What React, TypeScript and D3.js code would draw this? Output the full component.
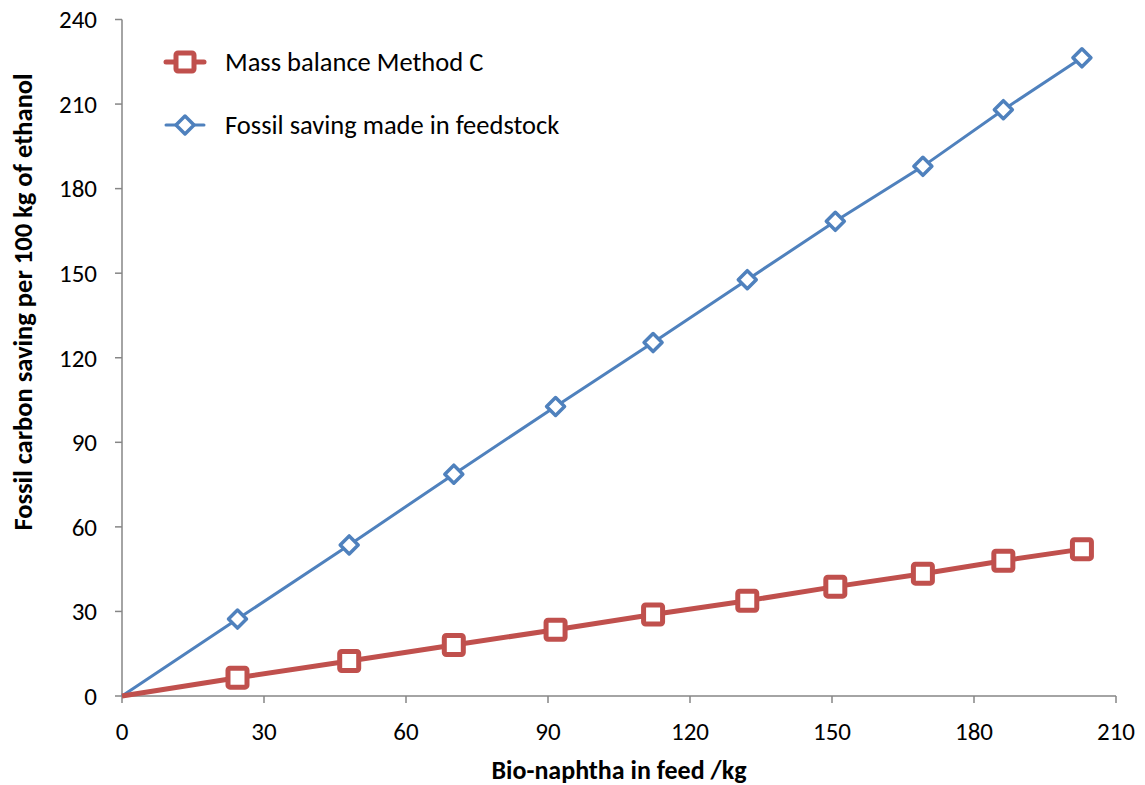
import React from "react";
import * as d3 from "d3";

const bioNaphtha = [0, 24.4, 48.0, 70.1, 91.6, 112.2, 132.1, 150.7, 169.2, 186.2, 202.8];
const massBalanceC = [0, 6.5, 12.4, 18.1, 23.5, 28.9, 33.8, 38.8, 43.4, 48.0, 52.1];
const fossilSaving = [0, 27.3, 53.6, 78.7, 102.7, 125.4, 147.7, 168.4, 187.9, 208.0, 226.4];
const xTicks = [0, 30, 60, 90, 120, 150, 180, 210];
const yTicks = [0, 30, 60, 90, 120, 150, 180, 210, 240];
const seriesNames = ["Mass balance Method C", "Fossil saving made in feedstock"];

const W = 1145;
const H = 785;
const FONT = "Carlito, Calibri, Lato, 'Open Sans', sans-serif";
const RED = "#C0504D";
const BLUE = "#4F81BD";
const AXIS = "#868686";

export default function App() {
  const x = d3.scaleLinear().domain([0, 210]).range([122, 1116]);
  const y = d3.scaleLinear().domain([0, 240]).range([696, 19.5]);
  const line = d3
    .line<number>()
    .x((_, i) => x(bioNaphtha[i]))
    .y((d) => y(d));

  const redPath = line(massBalanceC) || "";
  const bluePath = line(fossilSaving) || "";

  const sq = 9.5;
  const dm = 9;
  const diamond = (cx: number, cy: number) =>
    `M${cx},${cy - dm}L${cx + dm},${cy}L${cx},${cy + dm}L${cx - dm},${cy}Z`;

  return (
    <svg
      width={W}
      height={H}
      style={{ position: "absolute", left: 0, top: 0, background: "#fff" }}
      fontFamily={FONT}
    >
      {/* axes */}
      <line x1={x(0)} x2={x(0)} y1={y(240)} y2={y(0)} stroke={AXIS} strokeWidth={1.5} />
      <line x1={x(0)} x2={x(210)} y1={y(0)} y2={y(0)} stroke={AXIS} strokeWidth={1.5} />
      {yTicks.map((t) => (
        <g key={"y" + t}>
          <line x1={x(0) - 7} x2={x(0)} y1={y(t)} y2={y(t)} stroke={AXIS} strokeWidth={1.5} />
          <text x={97} y={y(t)} dy="0.35em" textAnchor="end" fontSize={25} fill="#000">
            {t}
          </text>
        </g>
      ))}
      {xTicks.map((t) => (
        <g key={"x" + t}>
          <line x1={x(t)} x2={x(t)} y1={y(0)} y2={y(0) + 7} stroke={AXIS} strokeWidth={1.5} />
          <text x={x(t)} y={740} textAnchor="middle" fontSize={25} fill="#000">
            {t}
          </text>
        </g>
      ))}

      {/* axis titles */}
      <text x={619} y={779} textAnchor="middle" fontSize={26} fontWeight="bold" fill="#000">
        Bio-naphtha in feed /kg
      </text>
      <text
        transform={`translate(32, 302) rotate(-90)`}
        textAnchor="middle"
        fontSize={26.5}
        fontWeight="bold"
        fill="#000"
      >
        Fossil carbon saving per 100 kg of ethanol
      </text>

      {/* series */}
      <path d={bluePath} fill="none" stroke={BLUE} strokeWidth={3} />
      <path d={redPath} fill="none" stroke={RED} strokeWidth={5} />
      {fossilSaving.slice(1).map((v, i) => (
        <path
          key={"b" + i}
          d={diamond(x(bioNaphtha[i + 1]), y(v))}
          fill="#fff"
          stroke={BLUE}
          strokeWidth={3.5}
          strokeLinejoin="round"
        />
      ))}
      {massBalanceC.slice(1).map((v, i) => (
        <rect
          key={"r" + i}
          x={x(bioNaphtha[i + 1]) - sq}
          y={y(v) - sq}
          width={sq * 2}
          height={sq * 2}
          rx={2}
          fill="#fff"
          stroke={RED}
          strokeWidth={5}
        />
      ))}

      {/* legend */}
      <g>
        <line x1={166} x2={204} y1={62} y2={62} stroke={RED} strokeWidth={5} strokeLinecap="round" />
        <rect x={185 - 9} y={62 - 9} width={18} height={18} rx={2} fill="#fff" stroke={RED} strokeWidth={5} />
        <text x={225} y={62} dy="0.35em" fontSize={26.5} fill="#000">
          {seriesNames[0]}
        </text>
        <line x1={166} x2={204} y1={125} y2={125} stroke={BLUE} strokeWidth={3} strokeLinecap="round" />
        <path d={diamond(185, 125)} fill="#fff" stroke={BLUE} strokeWidth={3.5} strokeLinejoin="round" />
        <text x={225} y={125} dy="0.35em" fontSize={26.5} fill="#000">
          {seriesNames[1]}
        </text>
      </g>
    </svg>
  );
}
